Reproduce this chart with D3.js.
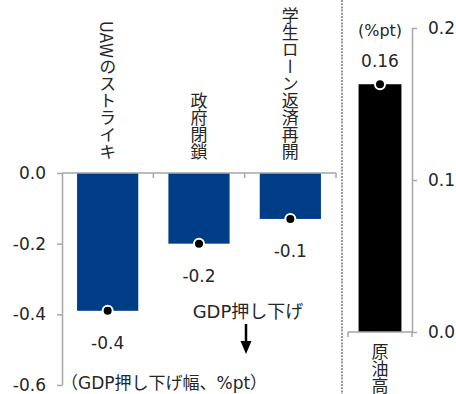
<!DOCTYPE html>
<html>
<head>
<meta charset="utf-8">
<script src="https://cdn.jsdelivr.net/npm/d3@7"></script>
<style>
  body { margin: 0; background: #fff; }
  text { font-family: "DejaVu Sans", "Noto Sans CJK JP", sans-serif; fill: #262626; }
  .jp { font-family: "Noto Sans CJK JP", sans-serif; }
</style>
</head>
<body>
<script>
// data
const leftCats = ["UAWのストライキ", "政府閉鎖", "学生ローン返済再開"];
const leftVals = [-0.39, -0.2, -0.13];
const leftLabels = ["-0.4", "-0.2", "-0.1"];
const leftTicks = [-0.6, -0.4, -0.2, 0.0];

const rightCats = ["原油高"];
const rightVals = [0.163];
const rightLabels = ["0.16"];
const rightTicks = [0.0, 0.1, 0.2];

const w = 456, h = 394;
const axisCol = "#a6a6a6";
const blue = "#003d87";

const svg = d3.select("body").append("svg")
  .attr("width", w).attr("height", h);

// ---- left panel
const xL = d3.scaleBand().domain(leftCats).range([62, 336])
  .paddingInner(0.33).paddingOuter(0.165);
const yL = d3.scaleLinear().domain([-0.6, 0]).range([385, 173]);

svg.selectAll(".barL").data(leftVals).enter().append("rect")
  .attr("x", (d, i) => xL(leftCats[i]))
  .attr("width", xL.bandwidth())
  .attr("y", yL(0))
  .attr("height", d => yL(d) - yL(0))
  .attr("fill", blue);

const axL = svg.append("g").attr("transform", "translate(62,0)")
  .call(d3.axisLeft(yL).tickValues(leftTicks).tickSize(5).tickSizeOuter(0)
    .tickPadding(11).tickFormat(d => d.toFixed(1)));
axL.selectAll("path,line").attr("stroke", axisCol).attr("stroke-width", 1.5);
axL.selectAll("text").attr("font-size", 17).attr("fill", "#262626")
  .style("font-family", "DejaVu Sans");

// baseline + category boundary ticks
svg.append("line").attr("x1", 62).attr("x2", 336)
  .attr("y1", yL(0)).attr("y2", yL(0)).attr("stroke", axisCol).attr("stroke-width", 1.5);
svg.selectAll(".bnd").data(leftCats).enter().append("line")
  .attr("x1", d => xL(d) - xL.step() * xL.paddingOuter() + xL.step())
  .attr("x2", d => xL(d) - xL.step() * xL.paddingOuter() + xL.step())
  .attr("y1", yL(0)).attr("y2", yL(0) + 5)
  .attr("stroke", axisCol).attr("stroke-width", 1.5);

// dots and value labels
svg.selectAll(".dotL").data(leftVals).enter().append("circle")
  .attr("cx", (d, i) => xL(leftCats[i]) + xL.bandwidth() / 2)
  .attr("cy", d => yL(d))
  .attr("r", 5).attr("fill", "#000").attr("stroke", "#fff").attr("stroke-width", 2);
svg.selectAll(".valL").data(leftVals).enter().append("text")
  .attr("x", (d, i) => xL(leftCats[i]) + xL.bandwidth() / 2)
  .attr("y", d => yL(d) + 38)
  .attr("text-anchor", "middle").attr("font-size", 17)
  .text((d, i) => leftLabels[i]);

// vertical category labels
svg.selectAll(".catL").data(leftCats).enter().append("text")
  .attr("class", "jp")
  .attr("x", d => xL(d) + xL.bandwidth() / 2)
  .attr("y", 160)
  .attr("text-anchor", "end")
  .style("writing-mode", "vertical-rl")
  .attr("font-size", 17)
  .text(d => d);

// annotations
svg.append("text")
  .attr("x", 248).attr("y", 318).attr("text-anchor", "middle")
  .attr("font-size", 18).text("GDP押し下げ");
svg.append("line").attr("x1", 246).attr("x2", 246).attr("y1", 324).attr("y2", 344)
  .attr("stroke", "#000").attr("stroke-width", 2.5);
svg.append("path").attr("d", "M240.5,341 L251.5,341 L246,354 Z").attr("fill", "#000");
svg.append("text")
  .attr("x", 61).attr("y", 389)
  .attr("font-size", 17).text("（GDP押し下げ幅、%pt）");

// separator
svg.append("line").attr("x1", 342).attr("x2", 342).attr("y1", 0).attr("y2", h)
  .attr("stroke", "#999").attr("stroke-width", 2).attr("stroke-dasharray", "2,1.2");

// ---- right panel
const xR = d3.scaleBand().domain(rightCats).range([348, 412])
  .paddingInner(0.33).paddingOuter(0.165);
const yR = d3.scaleLinear().domain([0, 0.2]).range([332, 28]);

svg.selectAll(".barR").data(rightVals).enter().append("rect")
  .attr("x", (d, i) => xR(rightCats[i]))
  .attr("width", xR.bandwidth())
  .attr("y", d => yR(d))
  .attr("height", d => yR(0) - yR(d))
  .attr("fill", "#000");

const axR = svg.append("g").attr("transform", "translate(412,0)")
  .call(d3.axisRight(yR).tickValues(rightTicks).tickSize(5).tickSizeOuter(0)
    .tickPadding(11).tickFormat(d => d.toFixed(1)));
axR.selectAll("path,line").attr("stroke", axisCol).attr("stroke-width", 1.5);
axR.selectAll("text").attr("font-size", 17).attr("fill", "#262626")
  .style("font-family", "DejaVu Sans");

svg.append("line").attr("x1", 348).attr("x2", 412)
  .attr("y1", yR(0)).attr("y2", yR(0)).attr("stroke", axisCol).attr("stroke-width", 1.5);
svg.append("line").attr("x1", 348).attr("x2", 348)
  .attr("y1", yR(0)).attr("y2", yR(0) + 5).attr("stroke", axisCol).attr("stroke-width", 1.5);
svg.append("line").attr("x1", 412).attr("x2", 412)
  .attr("y1", yR(0)).attr("y2", yR(0) + 5).attr("stroke", axisCol).attr("stroke-width", 1.5);

svg.selectAll(".dotR").data(rightVals).enter().append("circle")
  .attr("cx", (d, i) => xR(rightCats[i]) + xR.bandwidth() / 2)
  .attr("cy", d => yR(d))
  .attr("r", 5).attr("fill", "#000").attr("stroke", "#fff").attr("stroke-width", 2);
svg.selectAll(".valR").data(rightVals).enter().append("text")
  .attr("x", (d, i) => xR(rightCats[i]) + xR.bandwidth() / 2)
  .attr("y", d => yR(d) - 17)
  .attr("text-anchor", "middle").attr("font-size", 17)
  .text((d, i) => rightLabels[i]);

svg.append("text")
  .attr("x", 380).attr("y", 36).attr("text-anchor", "middle")
  .attr("font-size", 16).text("(%pt)");

svg.selectAll(".catR").data(rightCats).enter().append("text")
  .attr("class", "jp")
  .attr("x", d => xR(d) + xR.bandwidth() / 2)
  .attr("y", 343)
  .attr("text-anchor", "start")
  .style("writing-mode", "vertical-rl")
  .attr("font-size", 17)
  .text(d => d);
</script>
</body>
</html>
